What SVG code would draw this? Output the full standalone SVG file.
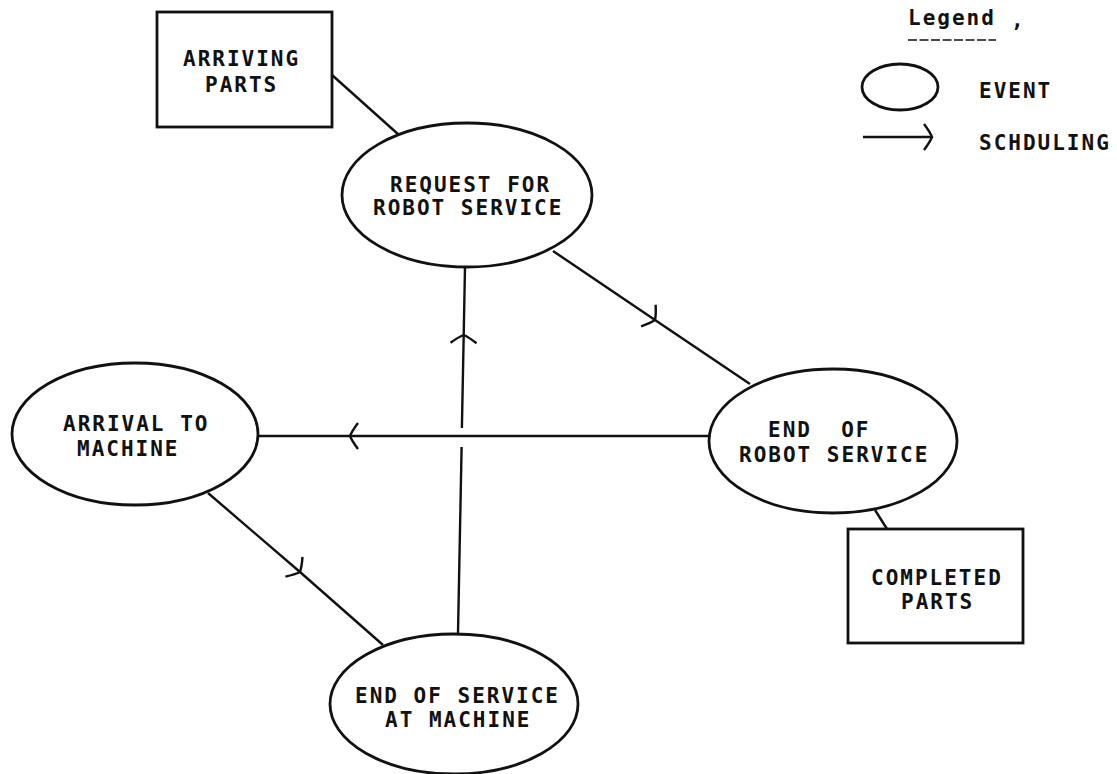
<svg xmlns="http://www.w3.org/2000/svg" width="1117" height="774" viewBox="0 0 1117 774">
<style>
.shape{fill:none;stroke:#111;stroke-width:2.8}
.conn{fill:none;stroke:#111;stroke-width:2.4}
.lbl{font-family:"DejaVu Sans Mono","Liberation Mono",monospace;font-size:21px;font-weight:bold;letter-spacing:2px;fill:#111}
</style>
<defs>
<marker id="chev" markerUnits="userSpaceOnUse" markerWidth="30" markerHeight="30" viewBox="-15 -15 30 30" refX="0" refY="0" orient="auto" overflow="visible">
<path d="M -8 -13 Q -2 -5 0 0 Q -2 5 -8 13" fill="none" stroke="#111" stroke-width="2.4"/>
</marker>
</defs>
<rect width="1117" height="774" fill="#fff"/>
<g id="connectors">
<line class="conn" x1="332" y1="75" x2="399" y2="135"/>
<polyline class="conn" points="553,251 655,320 750,384" marker-mid="url(#chev)"/>
<polyline class="conn" points="709,436 350,436 258,436" marker-mid="url(#chev)"/>
<line class="conn" x1="458" y1="633" x2="461.6" y2="447"/>
<polyline class="conn" points="461.9,428 463.7,335 465,267" marker-mid="url(#chev)"/>
<polyline class="conn" points="208,493 300,572 383,645" marker-mid="url(#chev)"/>
<line class="conn" x1="875" y1="510" x2="887" y2="529"/>
</g>
<g id="arriving-parts">
<rect class="shape" x="157" y="12" width="175" height="115"/>
<text class="lbl" x="183" y="66">ARRIVING</text>
<text class="lbl" x="205" y="92">PARTS</text>
</g>
<g id="request-robot-service">
<ellipse class="shape" cx="467" cy="195" rx="125" ry="72"/>
<text class="lbl" x="390" y="192">REQUEST FOR</text>
<text class="lbl" x="373" y="215">ROBOT SERVICE</text>
</g>
<g id="arrival-to-machine">
<ellipse class="shape" cx="135" cy="434" rx="123" ry="71"/>
<text class="lbl" x="63" y="431">ARRIVAL TO</text>
<text class="lbl" x="77" y="456">MACHINE</text>
</g>
<g id="end-robot-service">
<ellipse class="shape" cx="833" cy="441" rx="124" ry="72"/>
<text class="lbl" x="768" y="437" xml:space="preserve">END  OF</text>
<text class="lbl" x="739" y="462">ROBOT SERVICE</text>
</g>
<g id="completed-parts">
<rect class="shape" x="848" y="529" width="175" height="114"/>
<text class="lbl" x="871" y="585">COMPLETED</text>
<text class="lbl" x="901" y="609">PARTS</text>
</g>
<g id="end-service-machine">
<ellipse class="shape" cx="454" cy="704" rx="124" ry="70"/>
<text class="lbl" x="355" y="703">END OF SERVICE</text>
<text class="lbl" x="385" y="727">AT MACHINE</text>
</g>
<g id="legend">
<text class="lbl" x="908" y="25">Legend</text>
<text class="lbl" x="1011" y="27">,</text>
<line x1="908" y1="40" x2="996" y2="40" stroke="#111" stroke-width="1.5" stroke-dasharray="9 2.5"/>
<ellipse class="shape" cx="900" cy="87" rx="38" ry="23"/>
<text class="lbl" x="979" y="98">EVENT</text>
<line class="conn" x1="863" y1="137" x2="932" y2="137" marker-end="url(#chev)"/>
<text class="lbl" x="979" y="150">SCHDULING</text>
</g>
</svg>
